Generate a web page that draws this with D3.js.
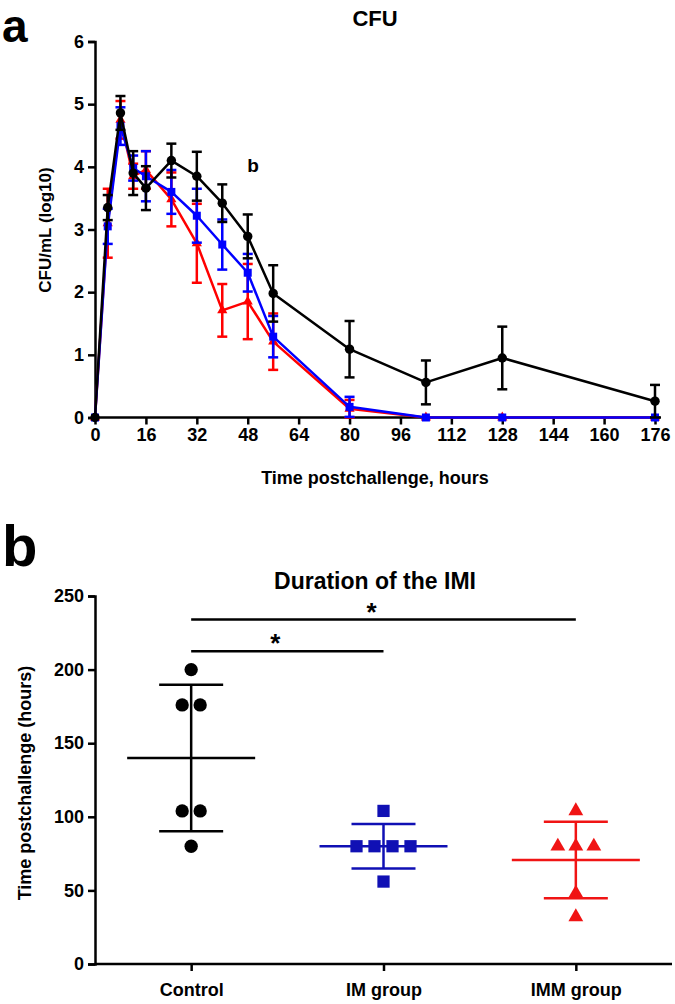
<!DOCTYPE html>
<html>
<head>
<meta charset="utf-8">
<script src="https://cdn.jsdelivr.net/npm/d3@7"></script>
<style>
  html, body { margin: 0; padding: 0; background: #fff; }
  svg text { font-family: "Liberation Sans", Arial, Helvetica, sans-serif; font-weight: bold; fill: #000; }
</style>
</head>
<body>
<svg id="chart" width="675" height="1004"></svg>
<script>
// ---------- Panel a data: CFU (log10) over time ----------
const hours = [0, 4, 8, 12, 16, 24, 32, 40, 48, 56, 80, 104, 128, 176];
const xTicksA = [0, 16, 32, 48, 64, 80, 96, 112, 128, 144, 160, 176];
const yTicksA = [0, 1, 2, 3, 4, 5, 6];

const controlCFU = [0, 3.35, 4.86, 3.90, 3.66, 4.10, 3.85, 3.42, 2.89, 1.98, 1.09, 0.56, 0.95, 0.26];
const controlErr = [0, 0.20, 0.27, 0.35, 0.35, 0.27, 0.39, 0.30, 0.35, 0.45, 0.45, 0.35, 0.50, 0.26];

const imCFU = [0, 3.05, 4.65, 3.98, 3.85, 3.60, 3.22, 2.76, 2.31, 1.29, 0.17, 0, 0, 0];
const imErr = [0, 0.28, 0.30, 0.20, 0.40, 0.35, 0.43, 0.40, 0.30, 0.33, 0.16, 0, 0, 0];

const immCFU = [0, 3.10, 4.75, 3.85, 3.95, 3.48, 2.78, 1.71, 1.85, 1.21, 0.14, 0, 0, 0];
const immErr = [0, 0.55, 0.30, 0.20, 0.30, 0.43, 0.63, 0.42, 0.60, 0.45, 0.14, 0, 0, 0];

// ---------- Panel b data: duration of the IMI (hours) ----------
const groups = ["Control", "IM group", "IMM group"];
const controlDur = [200, 176, 176, 104, 104, 80];
const imDur = [104, 80, 80, 80, 80, 56];
const immDur = [104, 80, 80, 80, 48, 32];
const yTicksB = [0, 50, 100, 150, 200, 250];
// significance brackets: from group, to group, height (hours)
const sigFrom = ["Control", "Control"];
const sigTo = ["IM group", "IMM group"];
const sigY = [212.5, 234];
const sigLabel = ["*", "*"];

const svg = d3.select("#chart");
const FONT = "Liberation Sans, Arial, sans-serif";

// ================= Panel a =================
const xA = d3.scaleLinear().domain([0, 176]).range([95, 655]);
const yA = d3.scaleLinear().domain([0, 6]).range([417.5, 41.5]);

svg.append("text").attr("x", 2).attr("y", 42).attr("font-size", 46).text("a");
svg.append("text").attr("x", 375).attr("y", 26).attr("text-anchor", "middle").attr("font-size", 22).text("CFU");

const gAx = svg.append("g").attr("transform", `translate(0,${yA(0)})`)
  .call(d3.axisBottom(xA).tickValues(xTicksA).tickSize(7).tickPadding(4).tickFormat(d3.format("d")));
gAx.select(".domain").attr("d", `M${xA(0)},0H${xA(176) + 6}`);
const gAy = svg.append("g").attr("transform", `translate(${xA(0)},0)`)
  .call(d3.axisLeft(yA).tickValues(yTicksA).tickSize(7).tickPadding(4).tickFormat(d3.format("d")));
[gAx, gAy].forEach(g => {
  g.select(".domain").attr("stroke", "#000").attr("stroke-width", 2.5);
  g.selectAll(".tick line").attr("stroke", "#000").attr("stroke-width", 2.5);
  g.selectAll(".tick text").attr("font-size", 18).attr("font-family", FONT).attr("font-weight", "bold").attr("fill", "#000");
});

svg.append("text").attr("x", 375).attr("y", 484).attr("text-anchor", "middle").attr("font-size", 18).text("Time postchallenge, hours");
svg.append("text").attr("transform", "translate(51,230) rotate(-90)").attr("text-anchor", "middle").attr("font-size", 17).text("CFU/mL (log10)");

const seriesA = [
  { vals: immCFU, err: immErr, color: "#ff0000", shape: d3.symbolTriangle, size: 45 },
  { vals: imCFU, err: imErr, color: "#0000ff", shape: d3.symbolSquare, size: 64 },
  { vals: controlCFU, err: controlErr, color: "#000000", shape: d3.symbolCircle, size: 70 }
];
const lineA = d3.line().x(d => xA(d.t)).y(d => yA(d.v));
seriesA.forEach(s => {
  const pts = hours.map((t, i) => ({ t, v: s.vals[i], e: s.err[i] }));
  const g = svg.append("g");
  const eb = pts.filter(p => p.e > 0);
  g.selectAll(null).data(eb).join("line")
    .attr("x1", d => xA(d.t)).attr("x2", d => xA(d.t))
    .attr("y1", d => yA(d.v - d.e)).attr("y2", d => yA(d.v + d.e))
    .attr("stroke", s.color).attr("stroke-width", 2.5);
  [1, -1].forEach(sign => {
    g.selectAll(null).data(eb).join("line")
      .attr("x1", d => xA(d.t) - 5).attr("x2", d => xA(d.t) + 5)
      .attr("y1", d => yA(d.v + sign * d.e))
      .attr("y2", d => yA(d.v + sign * d.e))
      .attr("stroke", s.color).attr("stroke-width", 2.5);
  });
  g.append("path").datum(pts).attr("d", lineA).attr("fill", "none")
    .attr("stroke", s.color).attr("stroke-width", 2.5).attr("stroke-linejoin", "round");
  g.selectAll(null).data(pts).join("path")
    .attr("transform", d => `translate(${xA(d.t)},${yA(d.v)})`)
    .attr("d", d3.symbol().type(s.shape).size(s.size)).attr("fill", s.color);
});

svg.append("text").attr("x", 253).attr("y", 172).attr("text-anchor", "middle").attr("font-size", 19).text("b");

// ================= Panel b =================
const xB = d3.scalePoint().domain(groups).range([95, 672]).padding(0.5);
const yB = d3.scaleLinear().domain([0, 250]).range([964, 596]);

svg.append("text").attr("x", 2).attr("y", 566).attr("font-size", 58).text("b");
svg.append("text").attr("x", 375).attr("y", 589).attr("text-anchor", "middle").attr("font-size", 23).text("Duration of the IMI");

const gBx = svg.append("g").attr("transform", `translate(0,${yB(0)})`)
  .call(d3.axisBottom(xB).tickSize(7).tickPadding(12));
gBx.select(".domain").attr("d", "M95,0H672");
const gBy = svg.append("g").attr("transform", "translate(95,0)")
  .call(d3.axisLeft(yB).tickValues(yTicksB).tickSize(7).tickPadding(4));
[gBx, gBy].forEach(g => {
  g.select(".domain").attr("stroke", "#000").attr("stroke-width", 2.5);
  g.selectAll(".tick line").attr("stroke", "#000").attr("stroke-width", 2.5);
  g.selectAll(".tick text").attr("font-size", 18).attr("font-family", FONT).attr("font-weight", "bold").attr("fill", "#000");
});

svg.append("text").attr("transform", "translate(31,783) rotate(-90)").attr("text-anchor", "middle").attr("font-size", 18).text("Time postchallenge (hours)");

const seriesB = [
  { name: "Control", vals: controlDur, color: "#000000", shape: d3.symbolCircle, size: 140 },
  { name: "IM group", vals: imDur, color: "#1010b4", shape: d3.symbolSquare, size: 150 },
  { name: "IMM group", vals: immDur, color: "#f01414", shape: d3.symbolTriangle, size: 95 }
];
seriesB.forEach(s => {
  const cx = xB(s.name);
  const m = d3.mean(s.vals), sd = d3.deviation(s.vals);
  const g = svg.append("g");
  const counts = d3.rollup(s.vals, v => v.length, v => v);
  const seen = new Map();
  const pts = s.vals.map(v => {
    const k = counts.get(v), i = seen.get(v) || 0;
    seen.set(v, i + 1);
    return { v, dx: (i - (k - 1) / 2) * 18 };
  });
  g.selectAll(null).data(pts).join("path")
    .attr("transform", d => `translate(${cx + d.dx},${yB(d.v)})`)
    .attr("d", d3.symbol().type(s.shape).size(s.size)).attr("fill", s.color);
  const ln = (x1, y1, x2, y2) => g.append("line").attr("x1", x1).attr("y1", y1).attr("x2", x2).attr("y2", y2)
    .attr("stroke", s.color).attr("stroke-width", 2.5);
  ln(cx, yB(m - sd), cx, yB(m + sd));
  ln(cx - 32, yB(m + sd), cx + 32, yB(m + sd));
  ln(cx - 32, yB(m - sd), cx + 32, yB(m - sd));
  ln(cx - 64, yB(m), cx + 64, yB(m));
});

sigY.forEach((v, i) => {
  const x1 = xB(sigFrom[i]), x2 = xB(sigTo[i]);
  svg.append("line").attr("x1", x1).attr("x2", x2).attr("y1", yB(v)).attr("y2", yB(v))
    .attr("stroke", "#000").attr("stroke-width", 2.5);
  svg.append("text").attr("x", (x1 + x2) / 2 - 12).attr("y", yB(v) + 1)
    .attr("text-anchor", "middle").attr("font-size", 26).text(sigLabel[i]);
});
</script>
</body>
</html>
